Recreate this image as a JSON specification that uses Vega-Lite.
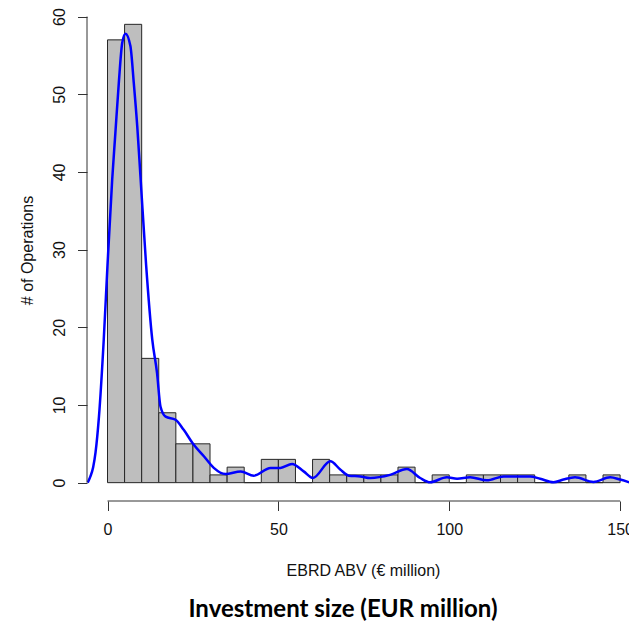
{
  "$schema": "https://vega.github.io/schema/vega-lite/v6.json",
  "width": 542,
  "height": 495,
  "autosize": {"type": "none"},
  "padding": {"left": 87, "top": 6, "right": 0, "bottom": 126},
  "background": "white",
  "config": {
    "view": {"stroke": null},
    "font": "Liberation Sans",
    "axis": {
      "grid": false,
      "domain": false,
      "tickColor": "#333333",
      "tickSize": 9.5,
      "tickWidth": 1,
      "labelFont": "Liberation Sans",
      "labelFontSize": 16,
      "labelColor": "#111111",
      "titleFont": "Liberation Sans",
      "titleFontSize": 16,
      "titleFontWeight": "normal",
      "titleColor": "#111111"
    }
  },
  "title": {
    "text": "Investment size (EUR million)",
    "orient": "bottom",
    "anchor": "middle",
    "font": "Lato",
    "fontWeight": "bold",
    "fontSize": 24,
    "color": "#000000",
    "dx": -15,
    "offset": 20,
    "baseline": "top"
  },
  "datasets": {
    "bins": [
      {"start": 0, "end": 5, "count": 57},
      {"start": 5, "end": 10, "count": 59},
      {"start": 10, "end": 15, "count": 16},
      {"start": 15, "end": 20, "count": 9},
      {"start": 20, "end": 25, "count": 5},
      {"start": 25, "end": 30, "count": 5},
      {"start": 30, "end": 35, "count": 1},
      {"start": 35, "end": 40, "count": 2},
      {"start": 40, "end": 45, "count": 0},
      {"start": 45, "end": 50, "count": 3},
      {"start": 50, "end": 55, "count": 3},
      {"start": 55, "end": 60, "count": 0},
      {"start": 60, "end": 65, "count": 3},
      {"start": 65, "end": 70, "count": 1},
      {"start": 70, "end": 75, "count": 1},
      {"start": 75, "end": 80, "count": 1},
      {"start": 80, "end": 85, "count": 1},
      {"start": 85, "end": 90, "count": 2},
      {"start": 90, "end": 95, "count": 0},
      {"start": 95, "end": 100, "count": 1},
      {"start": 100, "end": 105, "count": 0},
      {"start": 105, "end": 110, "count": 1},
      {"start": 110, "end": 115, "count": 1},
      {"start": 115, "end": 120, "count": 1},
      {"start": 120, "end": 125, "count": 1},
      {"start": 125, "end": 130, "count": 0},
      {"start": 130, "end": 135, "count": 0},
      {"start": 135, "end": 140, "count": 1},
      {"start": 140, "end": 145, "count": 0},
      {"start": 145, "end": 150, "count": 1}
    ],
    "density": [
      {"x": -5.8, "y": 0.0},
      {"x": -5.0, "y": 0.8},
      {"x": -4.2, "y": 2.0},
      {"x": -3.5, "y": 3.9},
      {"x": -2.5, "y": 8.5},
      {"x": -1.1, "y": 18.4},
      {"x": 0.0, "y": 28.0},
      {"x": 1.37, "y": 39.0},
      {"x": 2.3, "y": 45.0},
      {"x": 3.3, "y": 51.4},
      {"x": 4.3, "y": 56.6},
      {"x": 5.26, "y": 57.8},
      {"x": 6.7, "y": 56.2},
      {"x": 7.7, "y": 51.4},
      {"x": 8.7, "y": 45.9},
      {"x": 9.65, "y": 39.4},
      {"x": 11.3, "y": 28.0},
      {"x": 13.1, "y": 18.4},
      {"x": 14.5, "y": 14.1},
      {"x": 15.5, "y": 9.8},
      {"x": 17.0, "y": 8.5},
      {"x": 19.9, "y": 8.1},
      {"x": 22.3, "y": 6.8},
      {"x": 25.2, "y": 4.9},
      {"x": 28.2, "y": 3.4},
      {"x": 31.1, "y": 1.9},
      {"x": 34.5, "y": 1.1},
      {"x": 39.0, "y": 1.45},
      {"x": 42.8, "y": 0.9},
      {"x": 47.7, "y": 1.9},
      {"x": 50.6, "y": 1.9},
      {"x": 54.0, "y": 2.4},
      {"x": 57.4, "y": 1.45},
      {"x": 60.1, "y": 0.6},
      {"x": 65.2, "y": 2.75},
      {"x": 68.1, "y": 1.7},
      {"x": 70.6, "y": 0.9},
      {"x": 74.0, "y": 0.8},
      {"x": 76.9, "y": 0.6},
      {"x": 82.7, "y": 1.0},
      {"x": 87.6, "y": 1.75},
      {"x": 91.5, "y": 0.6},
      {"x": 94.4, "y": 0.05},
      {"x": 99.3, "y": 0.7},
      {"x": 102.3, "y": 0.5},
      {"x": 106.1, "y": 0.7},
      {"x": 111.0, "y": 0.3},
      {"x": 115.9, "y": 0.8},
      {"x": 123.7, "y": 0.8},
      {"x": 126.6, "y": 0.5},
      {"x": 130.5, "y": 0.05},
      {"x": 133.4, "y": 0.4},
      {"x": 136.8, "y": 0.7},
      {"x": 142.2, "y": 0.1},
      {"x": 147.1, "y": 0.7},
      {"x": 150.0, "y": 0.4},
      {"x": 153.0, "y": 0.0}
    ]
  },
  "layer": [
    {
      "data": {"name": "bins"},
      "mark": {"type": "bar", "fill": "#bebebe", "stroke": "#262626", "strokeWidth": 1, "clip": true},
      "encoding": {
        "x": {
          "field": "start",
          "type": "quantitative",
          "scale": {"domain": [-6, 152.6], "nice": false, "zero": false},
          "axis": {
            "values": [0, 50, 100, 150],
            "labelFlush": false,
            "labelPadding": 11,
            "labelBaseline": "top",
            "title": "EBRD ABV (€ million)",
            "titleX": 276,
            "titleY": 69,
            "titleAlign": "center",
            "titleBaseline": "middle"
          }
        },
        "x2": {"field": "end"},
        "y": {
          "field": "count",
          "type": "quantitative",
          "scale": {"domain": [-2.36, 61.36], "nice": false, "zero": false},
          "axis": {
            "values": [0, 10, 20, 30, 40, 50, 60],
            "labelAngle": -90,
            "labelAlign": "center",
            "labelBaseline": "alphabetic",
            "labelPadding": 13,
            "title": "# of Operations",
            "titleAngle": -90,
            "titleX": -60,
            "titleY": 244,
            "titleAlign": "center",
            "titleBaseline": "middle"
          }
        },
        "y2": {"datum": 0}
      }
    },
    {
      "data": {"name": "density"},
      "mark": {"type": "line", "color": "#0000ff", "strokeWidth": 2.5, "interpolate": "monotone", "clip": true},
      "encoding": {
        "x": {"field": "x", "type": "quantitative"},
        "y": {"field": "y", "type": "quantitative"}
      }
    },
    {
      "data": {"values": [{}]},
      "mark": {"type": "rule", "color": "#333333", "strokeWidth": 1},
      "encoding": {
        "x": {"datum": 0},
        "x2": {"datum": 150},
        "y": {"datum": -2.36}
      }
    },
    {
      "data": {"values": [{}]},
      "mark": {"type": "rule", "color": "#333333", "strokeWidth": 1},
      "encoding": {
        "x": {"datum": -6},
        "y": {"datum": 0},
        "y2": {"datum": 60}
      }
    }
  ]
}
